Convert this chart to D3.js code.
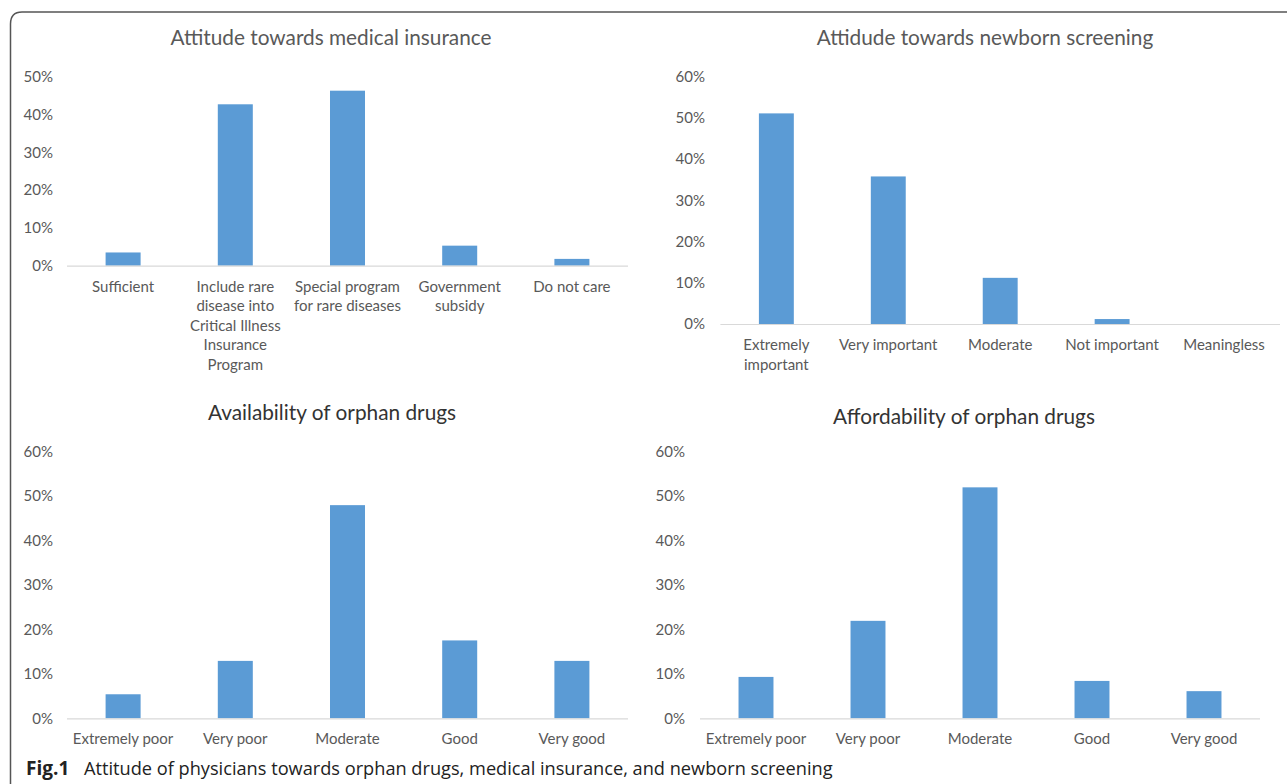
<!DOCTYPE html>
<html>
<head>
<meta charset="utf-8">
<script src="https://cdn.jsdelivr.net/npm/d3@7"></script>
<style>
  body { margin: 0; background: #fff; }
  text { font-family: Lato, "Open Sans", sans-serif; }
</style>
</head>
<body>
<div id="workspace"></div>
<script>
// data (percent)
var insuranceCats = ["Sufficient", "Include rare\ndisease into\nCritical Illness\nInsurance\nProgram", "Special program\nfor rare diseases", "Government\nsubsidy", "Do not care"];
var insuranceVals = [3.5, 42.7, 46.3, 5.3, 1.8];

var screeningCats = ["Extremely\nimportant", "Very important", "Moderate", "Not important", "Meaningless"];
var screeningVals = [51.1, 35.8, 11.2, 1.2, 0];

var drugCats = ["Extremely poor", "Very poor", "Moderate", "Good", "Very good"];
var availabilityVals = [5.4, 12.9, 47.9, 17.5, 12.9];
var affordabilityVals = [9.3, 21.9, 51.9, 8.4, 6.1];

var ticks50 = [0, 10, 20, 30, 40, 50];
var ticks60 = [0, 10, 20, 30, 40, 50, 60];

var svg = d3.select("#workspace")
	.append("svg")
	.attr("width", 1287)
	.attr("height", 784);

// frame line round the figure
svg.append("path")
	.attr("d", "M10.5,790 L10.5,24 Q10.5,12 22,12 L1290,12")
	.attr("fill", "none")
	.attr("stroke", "#555")
	.attr("stroke-width", 1.5);

var barColor = "#5B9BD5";

function panel(opt) {
	var x = d3.scaleBand()
		.domain(opt.cats)
		.range([opt.x0, opt.x1])
		.paddingInner(0.688)
		.paddingOuter(0.344);
	var y = d3.scaleLinear()
		.domain([0, opt.max])
		.range([opt.base, opt.top]);

	var g = svg.append("g");

	g.append("text")
		.attr("x", opt.titleX)
		.attr("y", opt.titleY + 2.5)
		.attr("text-anchor", "middle")
		.attr("dominant-baseline", "middle")
		.attr("font-size", "20.8px")
		.attr("fill", opt.titleColor)
		.text(opt.title);

	// y labels
	g.selectAll(".yl")
		.data(opt.ticks)
		.enter().append("text")
		.attr("x", opt.labelX)
		.attr("y", function(d) { return y(d) + 1.5; })
		.attr("text-anchor", "end")
		.attr("dominant-baseline", "middle")
		.attr("font-size", "15px")
		.attr("fill", "#595959")
		.text(function(d) { return d + "%"; });

	g.selectAll(".bar")
		.data(opt.vals)
		.enter().append("rect")
		.attr("x", function(d, i) { return x(opt.cats[i]); })
		.attr("y", function(d) { return y(d); })
		.attr("width", x.bandwidth())
		.attr("height", function(d) { return y(0) - y(d); })
		.attr("fill", barColor);

	g.append("line")
		.attr("x1", opt.x0)
		.attr("x2", opt.x1)
		.attr("y1", y(0) + 0.5)
		.attr("y2", y(0) + 0.5)
		.attr("stroke", "#D9D9D9")
		.attr("stroke-width", 1.2);

	// category labels, one tspan per line
	var lab = g.selectAll(".cl")
		.data(opt.cats)
		.enter().append("text")
		.attr("text-anchor", "middle")
		.attr("font-size", "15px")
		.attr("fill", "#595959");
	lab.each(function(c) {
		var t = d3.select(this);
		c.split("\n").forEach(function(line, k) {
			t.append("tspan")
				.attr("x", x(c) + x.bandwidth() / 2)
				.attr("y", y(0) + 26 + k * 19.5)
				.text(line);
		});
	});
}

panel({ title: "Attitude towards medical insurance", titleX: 331, titleY: 37, titleColor: "#595959",
	cats: insuranceCats, vals: insuranceVals, max: 50, ticks: ticks50,
	x0: 67, x1: 628, base: 265.7, top: 76.7, labelX: 53 });

panel({ title: "Attidude towards newborn screening", titleX: 985, titleY: 37, titleColor: "#595959",
	cats: screeningCats, vals: screeningVals, max: 60, ticks: ticks60,
	x0: 720.4, x1: 1280, base: 324, top: 76.7, labelX: 705 });

panel({ title: "Availability of orphan drugs", titleX: 332, titleY: 412, titleColor: "#333",
	cats: drugCats, vals: availabilityVals, max: 60, ticks: ticks60,
	x0: 67, x1: 628, base: 718.3, top: 451.3, labelX: 53 });

panel({ title: "Affordability of orphan drugs", titleX: 964, titleY: 416, titleColor: "#333",
	cats: drugCats, vals: affordabilityVals, max: 60, ticks: ticks60,
	x0: 700, x1: 1260, base: 718.3, top: 451.3, labelX: 685 });

// caption
var cap = svg.append("text")
	.attr("y", 775)
	.attr("fill", "#222")
	.style("font-family", "'Open Sans', sans-serif");
cap.append("tspan")
	.attr("x", 26)
	.attr("font-size", "19px")
	.attr("font-weight", "bold")
	.text("Fig.1");
cap.append("tspan")
	.attr("x", 84)
	.attr("font-size", "18.2px")
	.text("Attitude of physicians towards orphan drugs, medical insurance, and newborn screening");
</script>
</body>
</html>
